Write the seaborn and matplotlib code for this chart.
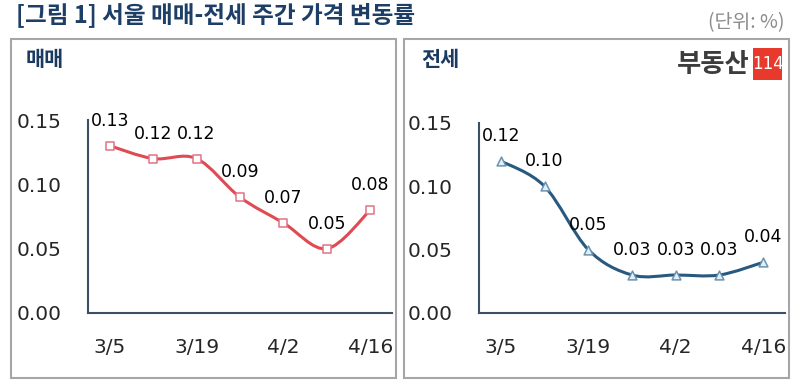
import numpy as np
import seaborn as sns
import matplotlib.pyplot as plt
from matplotlib.path import Path
from matplotlib.patches import PathPatch, Rectangle

sns.set_theme(style="white")
plt.rcParams['font.family'] = ['Noto Sans CJK KR', 'DejaVu Sans']

# 데이터
weeks = ['3/5', '3/12', '3/19', '3/26', '4/2', '4/9', '4/16']
tick_weeks = ['3/5', '3/19', '4/2', '4/16']
sale = [0.13, 0.12, 0.12, 0.09, 0.07, 0.05, 0.08]
jeonse = [0.12, 0.10, 0.05, 0.03, 0.03, 0.03, 0.04]

W, H = 802, 386
fig = plt.figure(figsize=(W / 100, H / 100), dpi=100)


def fx(px):
    return px / W


def fy(py):
    return 1 - py / H


def smooth_path(xs, ys, t=0.5):
    # 엑셀식 부드러운 선 (Catmull-Rom -> Bezier)
    xs = np.asarray(xs, float)
    ys = np.asarray(ys, float)
    pts = np.column_stack([xs, ys])
    verts = [pts[0]]
    codes = [Path.MOVETO]
    n = len(pts)
    for i in range(n - 1):
        p0 = pts[i - 1] if i > 0 else pts[i]
        p1 = pts[i]
        p2 = pts[i + 1]
        p3 = pts[i + 2] if i + 2 < n else pts[i + 1]
        c1 = p1 + (p2 - p0) * t / 3
        c2 = p2 - (p3 - p1) * t / 3
        verts += [c1, c2, p2]
        codes += [Path.CURVE4] * 3
    return Path(verts, codes)


def draw_panel(rect, vals, line_c, marker, m_face, m_edge):
    ax = fig.add_axes(rect)
    x = np.arange(len(weeks))
    ax.add_patch(PathPatch(smooth_path(x, vals), facecolor='none',
                           edgecolor=line_c, lw=2.2, zorder=2))
    sns.scatterplot(x=x, y=vals, ax=ax, marker=marker, s=40,
                    color=m_face, edgecolor=m_edge, linewidth=1.1, zorder=3)
    for xi, v in zip(x, vals):
        ax.annotate(f"{v:.2f}", (xi, v), xytext=(0, 18), textcoords='offset points',
                    ha='center', va='center', fontsize=12.5, color='black',
                    family=['DejaVu Sans'])
    ax.set_xlim(-0.5, len(weeks) - 0.5)
    ax.set_ylim(0, 0.15)
    ax.set_yticks([0, 0.05, 0.10, 0.15])
    ax.set_yticklabels([f"{t:.2f}" for t in [0, 0.05, 0.10, 0.15]])
    ax.set_xticks([weeks.index(w) for w in tick_weeks])
    ax.set_xticklabels(tick_weeks)
    ax.tick_params(axis='y', length=4, width=1, color='#4a5a70', pad=15,
                   labelsize=14.5, direction='out')
    ax.tick_params(axis='x', length=0, pad=18, labelsize=14.5)
    for lbl in ax.get_xticklabels() + ax.get_yticklabels():
        lbl.set_family(['DejaVu Sans'])
    for s in ['top', 'right']:
        ax.spines[s].set_visible(False)
    for s in ['left', 'bottom']:
        ax.spines[s].set_color('#3d4f66')
        ax.spines[s].set_linewidth(1.5)
    ax.patch.set_alpha(0)
    return ax


# 패널 테두리
for x0, x1 in [(11, 396), (404, 789)]:
    fig.add_artist(Rectangle((fx(x0), fy(378)), fx(x1 - x0), (378 - 39) / H,
                             transform=fig.transFigure, facecolor='white',
                             edgecolor='#a6a6a6', lw=1.5, zorder=0))

draw_panel([fx(88), fy(313), fx(392 - 88), (313 - 120) / H], sale,
           '#e04a52', 's', 'white', '#e07385')
draw_panel([fx(479), fy(313), fx(785 - 479), (313 - 123) / H], jeonse,
           '#28597e', '^', '#e3f0f7', '#6a92b2')

fig.text(fx(16), fy(15), '[그림 1] 서울 매매-전세 주간 가격 변동률', fontsize=17,
         fontweight='bold', color='#1d3e66', va='center', ha='left')
fig.text(fx(784), fy(23), '(단위: %)', fontsize=14, color='#8c8c8c',
         va='center', ha='right')
fig.text(fx(26), fy(60), '매매', fontsize=15, fontweight='bold', color='#1b3a60',
         va='center', ha='left')
fig.text(fx(421), fy(59), '전세', fontsize=15, fontweight='bold', color='#1b3a60',
         va='center', ha='left')

# 로고
fig.text(fx(750), fy(64), '부동산', fontsize=19, fontweight='heavy', color='#3c3c3c',
         va='center', ha='right')
fig.add_artist(Rectangle((fx(753), fy(80)), fx(29), 32 / H, transform=fig.transFigure,
                         facecolor='#e8392d', edgecolor='none'))
fig.text(fx(767.5), fy(64), '114', fontsize=12, color='white',
         va='center', ha='center', family=['Liberation Sans Narrow', 'DejaVu Sans'])

fig.savefig('out.png', dpi=100)
